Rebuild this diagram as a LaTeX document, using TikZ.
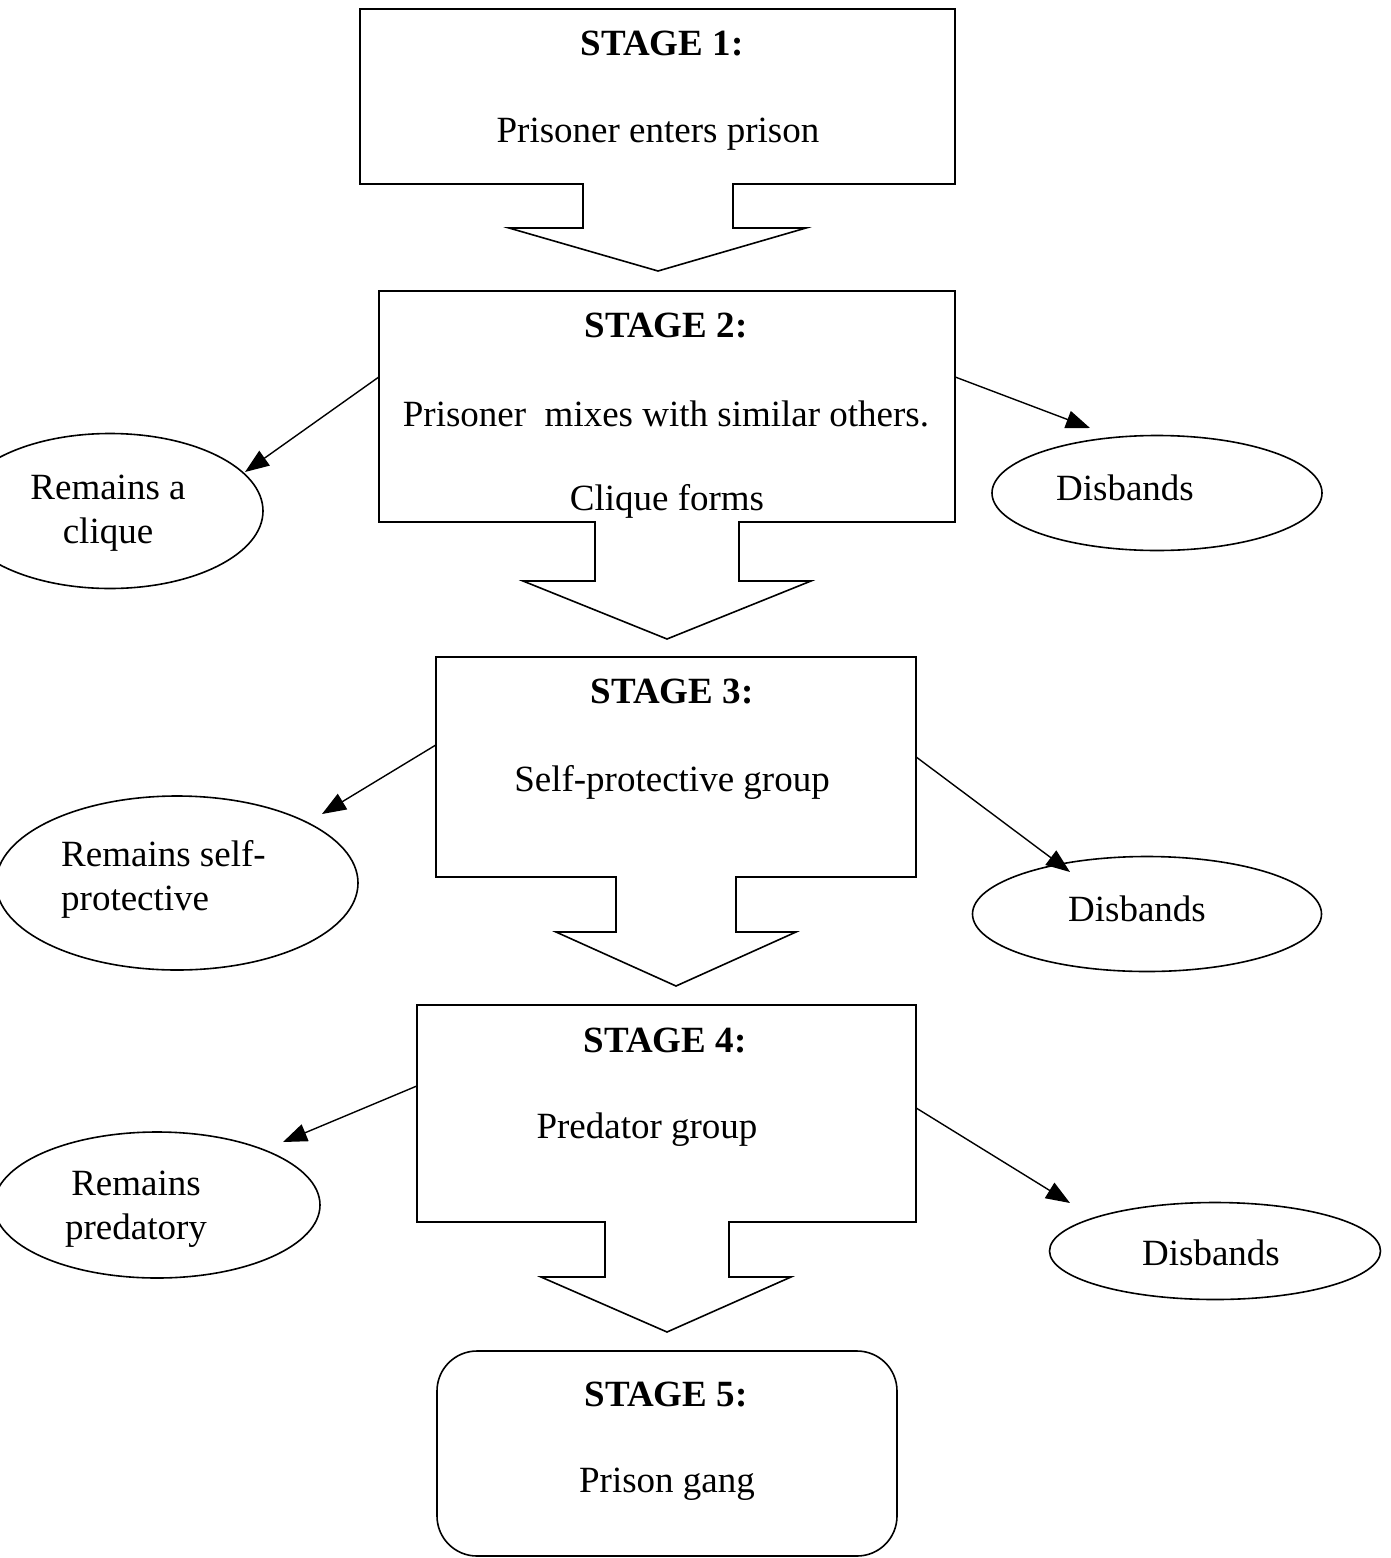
\documentclass[tikz,border=0pt]{standalone}
\usepackage{fontspec}
\setmainfont{Liberation Serif}
\usetikzlibrary{shapes.geometric,arrows.meta}
\begin{document}
\begin{tikzpicture}[x=1pt,y=-1pt,
  outline/.style={line width=1.6pt, line join=miter},
  txt/.style={inner sep=0pt, yshift=-4pt, font=\fontsize{37}{44}\selectfont},
  stg/.style={inner sep=0pt, yshift=-1pt, font=\fontsize{37}{44}\selectfont\bfseries},
  oval/.style={draw, ellipse, line width=1.6pt, inner sep=0pt},
  conn/.style={line width=1.4pt, -{Triangle[length=24pt,width=18pt]}}]
\useasboundingbox (0,0) rectangle (1391,1558);
% Stage 1
\node[inner sep=0pt, minimum width=595pt, minimum height=175pt] (s1) at (657.5,96.5) {};
\draw[outline] (583,184) -- (360,184) -- (360,9) -- (955,9) -- (955,184) -- (733,184) -- (733,228) -- (806,228) -- (658,271) -- (509,228) -- (583,228) -- cycle;
\node[stg] (s1a) at (662,43) {STAGE 1:};
\node[txt] (s1b) at (658,130) {Prisoner enters prison};
% Stage 2
\node[inner sep=0pt, minimum width=576pt, minimum height=231pt] (s2) at (667,406.5) {};
\draw[outline] (595,522) -- (379,522) -- (379,291) -- (955,291) -- (955,522) -- (739,522) -- (739,581) -- (811,581) -- (667,639) -- (523,581) -- (595,581) -- cycle;
\node[stg] (s2a) at (666,325) {STAGE 2:};
\node[txt] (s2b) at (666,410) {Prisoner\ \ mixes with similar others.};
\node[txt] (s2c) at (667,497) {Clique forms};
% Stage 3
\node[inner sep=0pt, minimum width=480pt, minimum height=220pt] (s3) at (676,767) {};
\draw[outline] (616,877) -- (436,877) -- (436,657) -- (916,657) -- (916,877) -- (736,877) -- (736,932) -- (796,932) -- (676,986) -- (556,932) -- (616,932) -- cycle;
\node[stg] (s3a) at (672,691) {STAGE 3:};
\node[txt] (s3b) at (672,778) {Self-protective group};
% Stage 4
\node[inner sep=0pt, minimum width=499pt, minimum height=217pt] (s4) at (666.5,1113.5) {};
\draw[outline] (605,1222) -- (417,1222) -- (417,1005) -- (916,1005) -- (916,1222) -- (729,1222) -- (729,1277) -- (791,1277) -- (667,1332) -- (541,1277) -- (605,1277) -- cycle;
\node[stg] (s4a) at (665,1039) {STAGE 4:};
\node[txt] (s4b) at (647,1126) {Predator group};
% Stage 5
\node[draw, line width=1.6pt, rounded corners=40pt, inner sep=0pt, minimum width=460pt, minimum height=205pt] (s5) at (667,1453.5) {};
\node[stg] (s5a) at (666,1393) {STAGE 5:};
\node[txt] (s5b) at (667,1480) {Prison gang};
% Ellipses
\node[oval, minimum width=306pt, minimum height=155pt] (l2) at (110,511) {};
\node[txt, align=center] (l2t) at (108,509) {Remains a\\clique};
\node[oval, minimum width=330pt, minimum height=115pt] (r2) at (1157,493) {};
\node[txt] (r2t) at (1125,484) {Disbands};
\node[oval, minimum width=362pt, minimum height=174pt] (l3) at (177,883) {};
\node[txt, align=left, anchor=west] (l3t) at (61,875) {Remains self-\\protective};
\node[oval, minimum width=349pt, minimum height=115pt] (r3) at (1147,914) {};
\node[txt] (r3t) at (1137,905) {Disbands};
\node[oval, minimum width=326pt, minimum height=146pt] (l4) at (157,1205) {};
\node[txt, align=center] (l4t) at (136,1205) {Remains\\predatory};
\node[oval, minimum width=331pt, minimum height=97pt] (r4) at (1215,1251) {};
\node[txt] (r4t) at (1211,1249) {Disbands};
% Connector ends
\coordinate (e2l) at (245,472);
\coordinate (e2r) at (1090,428);
\coordinate (e3l) at (322,814);
\coordinate (e3r) at (1070,872);
\coordinate (e4l) at (283,1142);
\coordinate (e4r) at (1070,1203);
\draw[conn] (s2.west |- 0,377) -- (e2l);
\draw[conn] (s2.east |- 0,377) -- (e2r);
\draw[conn] (s3.west |- 0,745) -- (e3l);
\draw[conn] (s3.east |- 0,757) -- (e3r);
\draw[conn] (s4.west |- 0,1086) -- (e4l);
\draw[conn] (s4.east |- 0,1108) -- (e4r);
\end{tikzpicture}
\end{document}
